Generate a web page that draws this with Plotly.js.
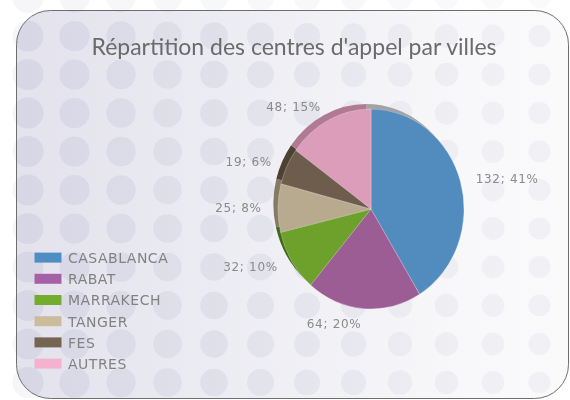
<!DOCTYPE html>
<html><head><meta charset="utf-8">
<script src="https://cdn.plot.ly/plotly-3.0.1.min.js"></script>
<style>
html,body{margin:0;padding:0;width:570px;height:400px;overflow:hidden;background:#fff;}
#bg{position:absolute;left:0;top:0;}
#chart{position:absolute;left:0;top:0;width:570px;height:400px;}
.legendtext{letter-spacing:0.5px;}
.pielayer text{letter-spacing:0.7px;}
</style>
</head><body>
<canvas id="bg" width="570" height="400"></canvas><div id="chart"></div>
<script>
const cities = ['CASABLANCA','RABAT','MARRAKECH','TANGER','FES','AUTRES'];
const centres = [132, 64, 32, 25, 19, 48];
const sliceColors = ['#528bbd','#9c5d95','#6ea12c','#b8aa8f','#6e5d4c','#dc9dba'];
const rimColors = ['#a3a3a3','#7d4a78','#3f6a18','#857a64','#4e4132','#b07a92'];
const legendColors = ['#4f8ec4','#a660a6','#74ad2d','#cbbd9b','#75644f','#f3b3cf'];

// decorative background: rounded panel + dotted pattern
(function drawBackground() {
  const c = document.getElementById('bg').getContext('2d');
  c.fillStyle = '#ffffff'; c.fillRect(0, 0, 570, 400);
  const px = 16.5, py = 10.5, pw = 552, ph = 388, rad = 34;
  function panelPath() {
    c.beginPath();
    c.moveTo(px + rad, py); c.lineTo(px + pw - rad, py);
    c.arcTo(px + pw, py, px + pw, py + rad, rad); c.lineTo(px + pw, py + ph - rad);
    c.arcTo(px + pw, py + ph, px + pw - rad, py + ph, rad); c.lineTo(px + rad, py + ph);
    c.arcTo(px, py + ph, px, py + ph - rad, rad); c.lineTo(px, py + rad);
    c.arcTo(px, py, px + rad, py, rad); c.closePath();
  }
  function dots(scale) {
    for (let j = -1; j < 11; j++) {
      for (let k = 0; k < 13; k++) {
        const x = 28 + 46.5 * k, y = 36 + 38.5 * j;
        const t = Math.min(1, Math.max(0, (x - 28) / 510));
        const rr = 15.5 - 4.5 * t;
        const a = (0.155 - 0.07 * t) * scale;
        c.beginPath(); c.arc(x, y, rr, 0, Math.PI * 2);
        c.fillStyle = 'rgba(150,150,185,' + a.toFixed(3) + ')'; c.fill();
      }
    }
  }
  dots(0.55);
  const g = c.createLinearGradient(px, 0, px + pw, 0);
  g.addColorStop(0, '#e3e2ed'); g.addColorStop(0.45, '#eeeef4');
  g.addColorStop(0.8, '#f8f8fa'); g.addColorStop(1, '#fafafb');
  panelPath(); c.fillStyle = g; c.fill();
  c.save(); panelPath(); c.clip(); dots(1); c.restore();
  panelPath(); c.lineWidth = 1; c.strokeStyle = '#6e6e6e'; c.stroke();
})();

const W = 570, H = 400, cx = 371, cy = 209, r = 100, rText = 108;
const dom = (rad, dx, dy) => ({
  x: [(cx - rad + dx) / W, (cx + rad + dx) / W],
  y: [(H - cy - rad - dy) / H, (H - cy + rad - dy) / H]
});

const rim = {
  type: 'pie', labels: cities, values: centres, sort: false, direction: 'clockwise',
  domain: dom(r, -5, -5), marker: {colors: rimColors, line: {width: 0}},
  textinfo: 'none', hoverinfo: 'skip', showlegend: false
};
const face = {
  type: 'pie', labels: cities, values: centres, sort: false, direction: 'clockwise',
  domain: dom(r, 0, 0),
  marker: {colors: sliceColors, line: {width: 0.6, color: 'rgba(255,255,255,0.45)'}},
  textinfo: 'none'
};
const labelsTrace = {
  type: 'pie', labels: cities, values: centres, sort: false, direction: 'clockwise',
  domain: dom(rText, 0, 0), showlegend: false, hoverinfo: 'skip',
  marker: {colors: cities.map(() => 'rgba(0,0,0,0)'), line: {width: 0}},
  texttemplate: '%{value}; %{percent:.0%}', textposition: 'outside',
  outsidetextfont: {family: 'DejaVu Sans', size: 12, color: '#8a8a8a'},
  automargin: false
};

const layout = {
  width: W, height: H, autosize: false,
  margin: {l: 0, r: 0, t: 0, b: 0},
  paper_bgcolor: 'rgba(0,0,0,0)', plot_bgcolor: 'rgba(0,0,0,0)',
  title: {text: "Répartition des centres d'appel par villes", x: 294 / W, xanchor: 'center',
          y: 1 - 47 / H, yanchor: 'middle', yref: 'container',
          font: {family: 'Lato', size: 23, color: '#6b6b6b'}},
  showlegend: true,
  legend: {x: 28 / W, xanchor: 'left', y: 1 - 242 / H, yanchor: 'top',
           bgcolor: 'rgba(0,0,0,0)', font: {family: 'DejaVu Sans', size: 14, color: '#828282'},
           traceorder: 'normal'}
};

Plotly.newPlot('chart', [rim, face, labelsTrace], layout, {displayModeBar: false, staticPlot: true}).then(gd => {
  gd.querySelectorAll('.legendpie').forEach((p, i) => {
    p.setAttribute('d', 'M13.5,5H-13.5V-5H13.5Z');
    p.style.fill = legendColors[i % legendColors.length];
    p.style.stroke = 'none';
  });
  const traces = gd.querySelectorAll('.pielayer .trace');
  for (let i = 0; i < 2 && i < traces.length; i++) {
    traces[i].setAttribute('transform',
      'translate(' + cx + ',' + cy + ') scale(0.93,1) translate(' + (-cx) + ',' + (-cy) + ')');
  }
});
</script>
</body></html>
